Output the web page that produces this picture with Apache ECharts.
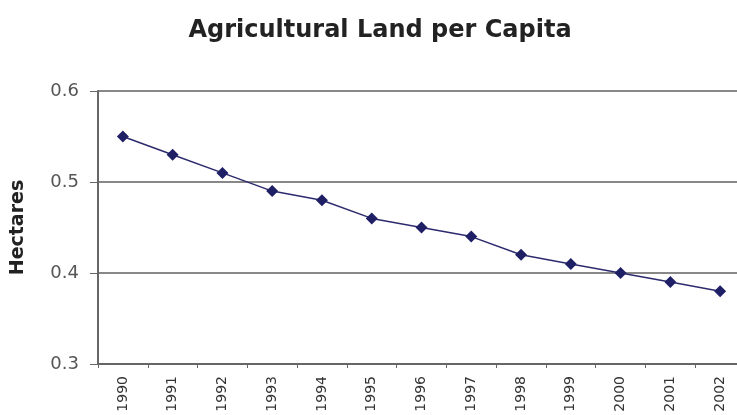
<!DOCTYPE html>
<html>
<head>
<meta charset="utf-8">
<script src="https://cdn.jsdelivr.net/npm/echarts@6/dist/echarts.min.js"></script>
<style>
  html, body { margin: 0; padding: 0; background: #fff; }
  #chart { width: 737px; height: 415px; }
</style>
</head>
<body>
<div id="chart"></div>
<script>
  const years = ['1990', '1991', '1992', '1993', '1994', '1995', '1996',
    '1997', '1998', '1999', '2000', '2001', '2002']
  const hectares = [0.55, 0.53, 0.51, 0.49, 0.48, 0.46, 0.45, 0.44, 0.42, 0.41, 0.40, 0.39, 0.38]
  const yTicks = [0.3, 0.4, 0.5, 0.6]

  const chart = echarts.init(document.getElementById('chart'))
  const font = 'DejaVu Sans, Verdana, sans-serif'

  const option = {
    animation: false,
    title: {
      text: 'Agricultural Land per Capita',
      left: 375,
      textAlign: 'center',
      top: 14,
      textStyle: { fontFamily: font, fontSize: 24, fontWeight: 'bold', color: '#222' }
    },
    grid: { left: 98, right: -8, top: 91, bottom: 51, outerBoundsMode: 'none' },
    xAxis: {
      type: 'category',
      data: years,
      boundaryGap: true,
      axisLine: { lineStyle: { color: '#666', width: 2 } },
      axisTick: { show: true, length: 4, lineStyle: { color: '#666' } },
      axisLabel: { rotate: 90, fontFamily: font, fontSize: 14, color: '#333', margin: 12 }
    },
    yAxis: {
      type: 'value',
      min: yTicks[0],
      max: yTicks[yTicks.length - 1],
      interval: 0.1,
      name: 'Hectares',
      nameLocation: 'middle',
      nameGap: 70,
      nameRotate: 90,
      nameTextStyle: { fontFamily: font, fontSize: 19, fontWeight: 'bold', color: '#222' },
      axisLine: { show: true, lineStyle: { color: '#666', width: 2 } },
      axisTick: { show: true, length: 8, lineStyle: { color: '#666' } },
      axisLabel: { fontFamily: font, fontSize: 18, color: '#555', margin: 19, formatter: v => v.toFixed(1) },
      splitLine: { show: true, lineStyle: { color: '#888', width: 2 } }
    },
    series: [
      {
        type: 'line',
        data: hectares,
        symbol: 'diamond',
        symbolSize: 12,
        lineStyle: { color: '#2b2b6e', width: 1.5 },
        itemStyle: { color: '#1f1f66' }
      }
    ]
  }

  chart.setOption(option)
</script>
</body>
</html>
